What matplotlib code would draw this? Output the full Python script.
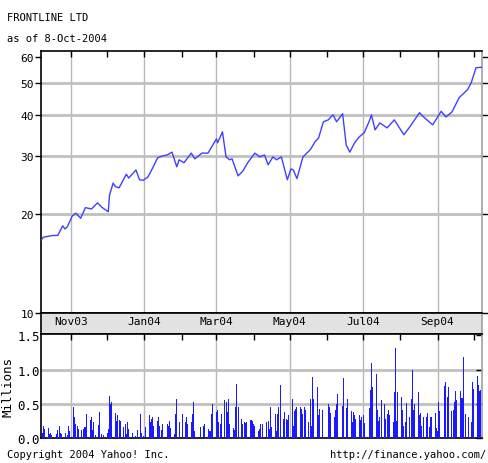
import matplotlib
matplotlib.use("Agg")
import matplotlib.pyplot as plt
import pandas as pd

# prix de cloture
price_dates = ["2003-10-07", "2003-10-09", "2003-10-17", "2003-10-21", "2003-10-25", "2003-10-27",
               "2003-10-29", "2003-11-02", "2003-11-05", "2003-11-09", "2003-11-13", "2003-11-18",
               "2003-11-23", "2003-11-27", "2003-12-02", "2003-12-03", "2003-12-06", "2003-12-08",
               "2003-12-11", "2003-12-17", "2003-12-19", "2003-12-25", "2003-12-28", "2003-12-31",
               "2004-01-04", "2004-01-08", "2004-01-12", "2004-01-16", "2004-01-20", "2004-01-24",
               "2004-01-28", "2004-01-30", "2004-02-03", "2004-02-09", "2004-02-12", "2004-02-18",
               "2004-02-23", "2004-02-27", "2004-03-01", "2004-03-02", "2004-03-06", "2004-03-09",
               "2004-03-12", "2004-03-14", "2004-03-19", "2004-03-23", "2004-03-27", "2004-04-02",
               "2004-04-06", "2004-04-10", "2004-04-13", "2004-04-17", "2004-04-20", "2004-04-24",
               "2004-04-29", "2004-05-02", "2004-05-04", "2004-05-07", "2004-05-12", "2004-05-18",
               "2004-05-22", "2004-05-25", "2004-05-29", "2004-06-02", "2004-06-06", "2004-06-09",
               "2004-06-14", "2004-06-17", "2004-06-20", "2004-06-24", "2004-06-28", "2004-07-02",
               "2004-07-06", "2004-07-08", "2004-07-11", "2004-07-15", "2004-07-21", "2004-07-27",
               "2004-08-04", "2004-08-09", "2004-08-17", "2004-08-21", "2004-08-28", "2004-09-04",
               "2004-09-08", "2004-09-13", "2004-09-19", "2004-09-26", "2004-09-29", "2004-10-03",
               "2004-10-08"]
prices = [16.6, 17.0, 17.2, 17.2, 18.4, 18.0,
          18.3, 19.7, 20.1, 19.4, 20.9, 20.7,
          21.6, 20.9, 20.3, 22.8, 24.8, 24.2,
          24.0, 26.4, 25.7, 27.2, 25.4, 25.3,
          25.9, 27.6, 29.6, 30.0, 30.2, 30.8,
          27.8, 29.2, 28.6, 30.6, 29.4, 30.6,
          30.6, 32.4, 33.8, 32.9, 35.5, 29.8,
          29.2, 29.4, 26.1, 27.0, 28.6, 30.6,
          29.8, 30.2, 28.2, 29.8, 29.2, 29.8,
          25.4, 27.4, 27.2, 25.6, 29.8, 31.3,
          33.1, 34.0, 38.1, 38.6, 40.0, 38.1,
          40.3, 32.4, 30.8, 32.9, 34.3, 35.3,
          38.1, 40.0, 36.0, 37.8, 36.5, 38.6,
          34.8, 36.8, 40.6, 39.2, 37.3, 41.0,
          39.4, 40.8, 45.1, 47.7, 50.0, 55.6,
          55.8]

# volume journalier en millions, une ligne par semaine
volumes = [0.18, 0.08, 0.18, 0.13,
           0.15, 0.06, 0.07, 0.05, 0.03,
           0.06, 0.11, 0.18, 0.08, 0.06,
           0.08, 0.02, 0.05, 0.18, 0.10,
           0.46, 0.30, 0.20, 0.18, 0.13,
           0.11, 0.13, 0.16, 0.16, 0.35,
           0.26, 0.30, 0.11, 0.23, 0.05,
           0.19, 0.38, 0.06, 0.00, 0.05,
           0.08, 0.13, 0.62, 0.50, 0.52,
           0.37, 0.25, 0.33, 0.26, 0.25,
           0.16, 0.20, 0.06, 0.23, 0.13,
           0.08, 0.02, 0.00, 0.03, 0.11,
           0.35, 0.08, 0.03, 0.00, 0.16,
           0.33, 0.23, 0.28, 0.30, 0.18,
           0.25, 0.30, 0.18, 0.12, 0.20,
           0.00, 0.20, 0.18, 0.25, 0.15,
           0.06, 0.35, 0.57, 0.25, 0.23,
           0.35, 0.23, 0.23, 0.30, 0.20,
           0.23, 0.35, 0.52, 0.10, 0.13,
           0.00, 0.16, 0.13, 0.18, 0.20,
           0.13, 0.10, 0.10, 0.35, 0.50,
           0.38, 0.41, 0.23, 0.20, 0.35,
           0.55, 0.52, 0.38, 0.57, 0.20,
           0.15, 0.12, 0.45, 0.79, 0.45,
           0.28, 0.20, 0.23, 0.22, 0.24,
           0.27, 0.26, 0.25, 0.20, 0.18,
           0.10, 0.13, 0.20, 0.20, 0.00,
           0.23, 0.25, 0.13, 0.45, 0.16,
           0.35, 0.10, 0.35, 0.45, 0.77,
           0.28, 0.38, 0.28, 0.26, 0.33,
           0.57, 0.18, 0.40, 0.43, 0.46,
           0.45, 0.42, 0.35, 0.46, 0.41,
           0.23, 0.57, 0.18, 0.89, 0.57,
           0.74, 0.33, 0.43, 0.38, 0.41,
           0.00, 0.33, 0.50, 0.45, 0.37,
           0.30, 0.41, 0.50, 0.65, 0.00,
           0.47, 0.87, 0.67, 0.44, 0.57,
           0.40, 0.23, 0.38, 0.33, 0.28,
           0.33, 0.26, 0.30, 0.33, 0.22,
           0.00, 0.44, 0.70, 1.09, 0.75,
           0.94, 0.41, 0.25, 0.30, 0.56,
           0.50, 0.28, 0.35, 0.41, 0.33,
           0.23, 0.67, 1.31, 0.25, 0.67,
           0.60, 0.41, 0.18, 0.23, 0.51,
           0.30, 0.57, 1.00, 0.41, 0.50,
           0.67, 0.33, 0.36, 0.18, 0.30,
           0.30, 0.36, 0.16, 0.30, 0.30,
           0.36, 0.15, 0.10, 0.52, 0.40,
           0.00, 0.76, 0.82, 0.60, 0.74,
           0.39, 0.41, 0.52, 0.69, 0.55,
           0.69, 0.59, 0.59, 1.18, 0.35,
           0.30, 0.26, 0.24, 0.82, 0.72,
           0.91, 0.77, 0.69, 0.70, 0.60]

month_labels = ["Nov03", "Jan04", "Mar04", "May04", "Jul04", "Sep04"]
price_ticks = [10, 20, 30, 40, 50, 60]
vol_ticks = [0.0, 0.5, 1.0, 1.5]

plt.rcParams["font.family"] = "DejaVu Sans Mono"

px = pd.to_datetime(price_dates)
vol_days = pd.bdate_range("2003-10-07", "2004-10-08")
months = pd.date_range("2003-11-01", "2004-10-01", freq="MS")
label_months = pd.to_datetime(["2003-11-01", "2004-01-01", "2004-03-01",
                               "2004-05-01", "2004-07-01", "2004-09-01"])
x0 = pd.Timestamp("2003-10-07")
x1 = pd.Timestamp("2004-10-08")

W, H = 488, 464
fig = plt.figure(figsize=(W / 100, H / 100), dpi=100)
fig.patch.set_facecolor("white")

grid_c = "#b8b8b8"


def style_frame(a):
    for s in ["left", "top", "bottom"]:
        a.spines[s].set_color("black")
        a.spines[s].set_linewidth(1.2)
    a.spines["right"].set_color("#a0a0a0")
    a.spines["right"].set_linewidth(1.2)


# --- graphique des prix ---
ax = fig.add_axes([41 / W, (H - 314) / H, 441 / W, 262 / H])
ax.set_yscale("log")
ax.set_ylim(10, 62.5)
ax.set_xlim(x0, x1)
for m in label_months:
    ax.axvline(m, color=grid_c, lw=1, zorder=1)
for v in [20, 30, 40, 50]:
    ax.axhline(v, color="#c0c0c0", lw=2, zorder=1)
ax.plot(px, prices, color="#4040ff", lw=1, zorder=3)
ax.set_yticks(price_ticks)
ax.set_yticklabels([str(v) for v in price_ticks], fontsize=8)
ax.yaxis.set_minor_locator(matplotlib.ticker.NullLocator())
ax.set_xticks(months)
ax.set_xticklabels([])
ax.xaxis.set_minor_locator(matplotlib.ticker.NullLocator())
ax.tick_params(axis="x", top=True, bottom=False, direction="in", length=4, width=1)
ax.tick_params(axis="y", left=True, right=True, direction="out", length=4, width=1, pad=1)
style_frame(ax)

# --- bande des mois ---
band = fig.add_axes([41 / W, (H - 335) / H, 441 / W, 21 / H])
band.set_facecolor("#e2e2e2")
band.set_xlim(x0, x1)
band.set_ylim(0, 1)
band.set_xticks([])
band.set_yticks([])
for m, lab in zip(label_months, month_labels):
    band.text(m, 0.62, lab, ha="center", va="center", fontsize=8)
style_frame(band)

# --- volume ---
av = fig.add_axes([41 / W, (H - 439) / H, 441 / W, 104 / H])
av.set_xlim(x0, x1)
av.set_ylim(0, 1.52)
for m in label_months:
    av.axvline(m, color=grid_c, lw=1, zorder=1)
for v in [0.5, 1.0]:
    av.axhline(v, color="#c0c0c0", lw=2, zorder=1)
av.bar(vol_days, volumes, width=0.8, color="#1a1aff", zorder=3)
av.set_yticks(vol_ticks)
av.set_yticklabels(["%.1f" % v for v in vol_ticks], fontsize=9)
av.set_xticks(months)
av.set_xticklabels([])
av.tick_params(axis="x", top=True, bottom=False, direction="in", length=4, width=1)
av.tick_params(axis="y", left=False, right=True, direction="in", length=4, width=1, pad=1)
av.set_ylabel("Millions", fontsize=9, labelpad=2)
style_frame(av)

# textes
fig.text(7 / W, 1 - 18 / H, "FRONTLINE LTD", fontsize=7.5, va="center", ha="left")
fig.text(7 / W, 1 - 39 / H, "as of 8-Oct-2004", fontsize=7.5, va="center", ha="left")
fig.text(7 / W, 1 - 455 / H, "Copyright 2004 Yahoo! Inc.", fontsize=7.5, va="center", ha="left")
fig.text(486 / W, 1 - 455 / H, "http://finance.yahoo.com/", fontsize=7.5, va="center", ha="right")

fig.savefig("out.png", dpi=100)
